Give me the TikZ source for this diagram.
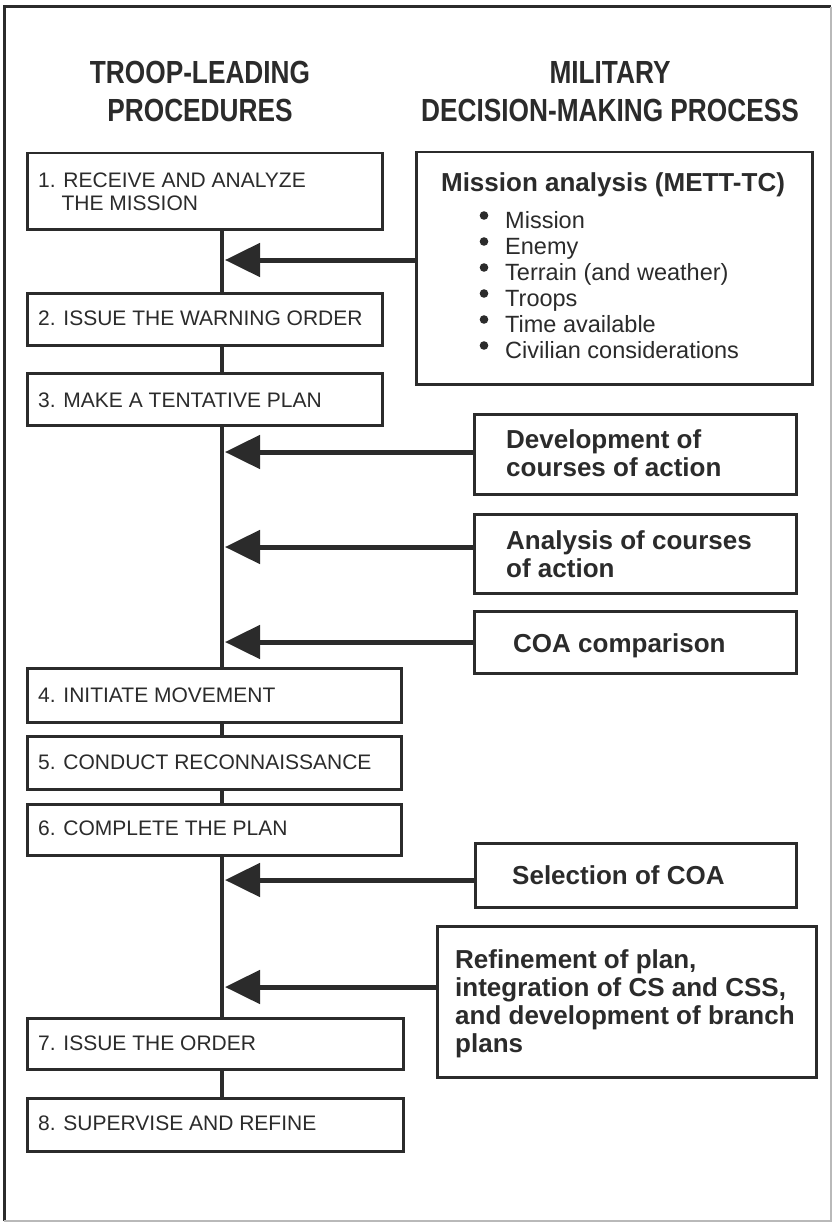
\documentclass[tikz,border=0pt]{standalone}
\usepackage{fontspec}
\setmainfont{Liberation Sans}
\newfontfamily\headfont[FakeStretch=0.82]{Liberation Sans}
\usetikzlibrary{arrows.meta}
\definecolor{ink}{HTML}{2B2B2B}
\begin{document}
\begin{tikzpicture}[x=1pt,y=-1pt,
  box/.style={draw=ink, line width=2.5pt, anchor=north west, inner sep=0pt},
  ltext/.style={anchor=base west, inner sep=0pt, align=left, text=ink, font=\fontsize{21}{23}\selectfont},
  rtext/.style={anchor=base west, inner sep=0pt, align=left, text=ink, font=\bfseries\fontsize{26}{28}\selectfont},
  head/.style={anchor=base, inner sep=0pt, align=center, text=ink, font=\headfont\bfseries\fontsize{32}{38}\selectfont},
  spine/.style={draw=ink, line width=4pt},
  arr/.style={draw=ink, line width=5pt, -{Triangle[length=35pt,width=33pt]}},
  bul/.style={fill=ink}
]
\useasboundingbox (0,0) rectangle (834,1225);
\fill[white] (0,0) rectangle (834,1225);
% frame
\draw[ink, line width=3pt] (4,1221) -- (4,7) -- (831,7);
\draw[gray!55, line width=2pt] (831,7) -- (831,1221) -- (4,1221);

% headings (base = last line)
\node[head] (h1) at (200,121.5) {TROOP-LEADING\\PROCEDURES};
\node[head] (h2) at (610,121.5) {MILITARY\\DECISION-MAKING PROCESS};

% left boxes
\node[box, minimum width=355, minimum height=76] (B1) at (26,152) {};
\node[box, minimum width=355, minimum height=52] (B2) at (26,292) {};
\node[box, minimum width=355, minimum height=52] (B3) at (26,372) {};
\node[box, minimum width=374, minimum height=54] (B4) at (26,667) {};
\node[box, minimum width=374, minimum height=53] (B5) at (26,735) {};
\node[box, minimum width=374, minimum height=51] (B6) at (26,803) {};
\node[box, minimum width=376, minimum height=51] (B7) at (26,1017) {};
\node[box, minimum width=376, minimum height=53] (B8) at (26,1097) {};

\node[ltext] (T1) at (38,210) {1. RECEIVE AND ANALYZE\\\hphantom{1.}\ THE MISSION};
\node[ltext] (T2) at (38,325.5) {2. ISSUE THE WARNING ORDER};
\node[ltext] (T3) at (38,407.5) {3. MAKE A TENTATIVE PLAN};
\node[ltext] (T4) at (38,702.5) {4. INITIATE MOVEMENT};
\node[ltext] (T5) at (38,769.5) {5. CONDUCT RECONNAISSANCE};
\node[ltext] (T6) at (38,835.5) {6. COMPLETE THE PLAN};
\node[ltext] (T7) at (38,1050.5) {7. ISSUE THE ORDER};
\node[ltext] (T8) at (38,1130.5) {8. SUPERVISE AND REFINE};

% right boxes
\node[box, minimum width=396, minimum height=232] (M) at (415,151) {};
\node[box, minimum width=322, minimum height=80] (D1) at (473,413) {};
\node[box, minimum width=322, minimum height=79] (D2) at (473,513) {};
\node[box, minimum width=322, minimum height=62] (D3) at (473,610) {};
\node[box, minimum width=321, minimum height=64] (D4) at (474,842) {};
\node[box, minimum width=379, minimum height=151] (D5) at (436,925) {};

\node[rtext, anchor=base] (MT) at (613,191) {Mission analysis (METT-TC)};
\node[anchor=base west, inner sep=0pt, align=left, text=ink, font=\fontsize{23.5}{26}\selectfont] (ML) at (505,358)
  {Mission\\Enemy\\Terrain (and weather)\\Troops\\Time available\\Civilian considerations};
\foreach \yy in {215.5,241.5,267.5,293.5,319.5,345.5}
  \fill[bul] (484,\yy) circle (4.3);

\node[rtext] (R1) at (506,476) {Development of\\courses of action};
\node[rtext] (R2) at (506,577) {Analysis of courses\\of action};
\node[rtext] (R3) at (513,652) {COA comparison};
\node[rtext] (R4) at (512,884) {Selection of COA};
\node[rtext] (R5) at (455,1052) {Refinement of plan,\\integration of CS and CSS,\\and development of branch\\plans};

% spine
\coordinate (sp) at (222,0);
\draw[spine] (sp |- B1.south) -- (sp |- B2.north);
\draw[spine] (sp |- B2.south) -- (sp |- B3.north);
\draw[spine] (sp |- B3.south) -- (sp |- B4.north);
\draw[spine] (sp |- B4.south) -- (sp |- B5.north);
\draw[spine] (sp |- B5.south) -- (sp |- B6.north);
\draw[spine] (sp |- B6.south) -- (sp |- B7.north);
\draw[spine] (sp |- B7.south) -- (sp |- B8.north);

% arrows
\coordinate (a1) at (225,260);
\coordinate (a2) at (225,452);
\coordinate (a3) at (225,547);
\coordinate (a4) at (225,642);
\coordinate (a5) at (225,880);
\coordinate (a6) at (225,987);
\draw[arr] (M.west |- a1) -- (a1);
\draw[arr] (D1.west |- a2) -- (a2);
\draw[arr] (D2.west |- a3) -- (a3);
\draw[arr] (D3.west |- a4) -- (a4);
\draw[arr] (D4.west |- a5) -- (a5);
\draw[arr] (D5.west |- a6) -- (a6);
\end{tikzpicture}
\end{document}
